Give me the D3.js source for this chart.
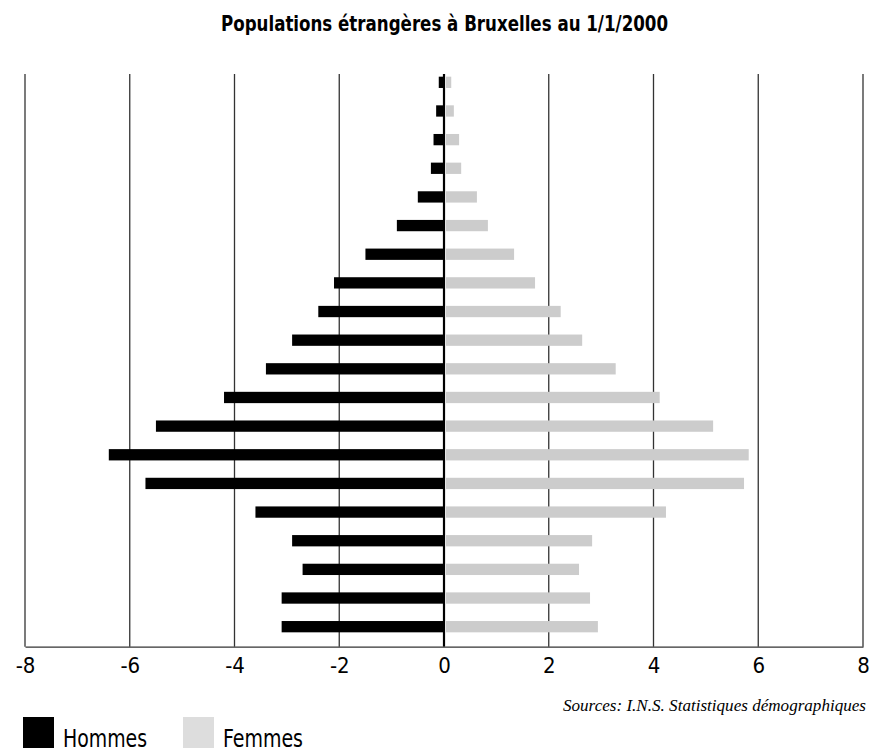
<!DOCTYPE html>
<html><head><meta charset="utf-8">
<script src="https://cdn.jsdelivr.net/npm/d3@7"></script>
<style>body{margin:0;background:#fff}</style>
</head><body>
<svg id="c" width="874" height="752"></svg>
<script>
const ageGroups = ["95+","90-94","85-89","80-84","75-79","70-74","65-69","60-64","55-59","50-54","45-49","40-44","35-39","30-34","25-29","20-24","15-19","10-14","5-9","0-4"];
const hommes = [-0.1,-0.15,-0.2,-0.25,-0.5,-0.9,-1.5,-2.1,-2.4,-2.9,-3.4,-4.2,-5.5,-6.4,-5.7,-3.6,-2.9,-2.7,-3.1,-3.1];
const femmes = [0.1,0.15,0.25,0.29,0.59,0.8,1.3,1.7,2.19,2.6,3.24,4.08,5.1,5.78,5.69,4.2,2.79,2.54,2.75,2.9];
const xTicks = [-8,-6,-4,-2,0,2,4,6,8];
const seriesNames = ["Hommes","Femmes"];

const svg = d3.select("#c");
const x = d3.scaleLinear().domain([-8,8]).range([25,863]);
const y = d3.scaleBand().domain(ageGroups).range([68,641]).paddingInner(0.6).paddingOuter(0.3);
const yTop = 74, yBot = 646.7;
const cond = "'DejaVu Sans Condensed','DejaVu Sans',sans-serif";

svg.append("text").attr("x",221).attr("y",30.5)
  .attr("font-family",cond).attr("font-stretch","condensed").attr("font-weight","bold").attr("font-size",21)
  .attr("textLength",447).attr("lengthAdjust","spacingAndGlyphs")
  .text("Populations étrangères à Bruxelles au 1/1/2000");

// gridlines
svg.append("g").selectAll("line").data(xTicks.filter(d=>d!==0)).join("line")
  .attr("x1",d=>x(d)).attr("x2",d=>x(d)).attr("y1",yTop).attr("y2",yBot)
  .attr("stroke","#333").attr("stroke-width",1.3);

const bh = 11.3;
svg.append("g").selectAll("rect").data(hommes).join("rect")
  .attr("x",d=>x(d)).attr("width",d=>x(0)-x(d))
  .attr("y",(d,i)=>y(ageGroups[i])+y.bandwidth()/2-bh/2).attr("height",bh)
  .attr("fill","#000");
svg.append("g").selectAll("rect").data(femmes).join("rect")
  .attr("x",x(0)+2).attr("width",d=>x(d)-x(0))
  .attr("y",(d,i)=>y(ageGroups[i])+y.bandwidth()/2-bh/2).attr("height",bh)
  .attr("fill","#cccccc");

// zero line
svg.append("line").attr("x1",x(0)).attr("x2",x(0)).attr("y1",yTop).attr("y2",yBot)
  .attr("stroke","#000").attr("stroke-width",2.2);

// x axis
const ax = svg.append("g").attr("transform",`translate(0,${yBot})`)
  .call(d3.axisBottom(x).tickValues(xTicks).tickSize(0).tickPadding(11).tickFormat(d=>String(d)));
ax.select(".domain").attr("stroke","#333").attr("stroke-width",1.3);
ax.selectAll("text").attr("font-family",cond).attr("font-stretch","condensed").attr("font-size",22).attr("fill","#000");

svg.append("text").attr("x",563).attr("y",711)
  .attr("font-family","'Liberation Serif','DejaVu Serif',serif").attr("font-style","italic").attr("font-size",16.5)
  .attr("textLength",303).attr("lengthAdjust","spacingAndGlyphs")
  .text("Sources: I.N.S. Statistiques démographiques");

// legend
const leg = [{n:seriesNames[0],c:"#000",x:23,w:84},{n:seriesNames[1],c:"#dddddd",x:183,w:80}];
const lg = svg.append("g").selectAll("g").data(leg).join("g");
lg.append("rect").attr("x",d=>d.x).attr("y",717).attr("width",31).attr("height",31).attr("fill",d=>d.c);
lg.append("text").attr("x",d=>d.x+40).attr("y",747).attr("font-family",cond).attr("font-stretch","condensed").attr("font-size",25)
  .attr("textLength",d=>d.w).attr("lengthAdjust","spacingAndGlyphs").text(d=>d.n);
</script>
</body></html>
